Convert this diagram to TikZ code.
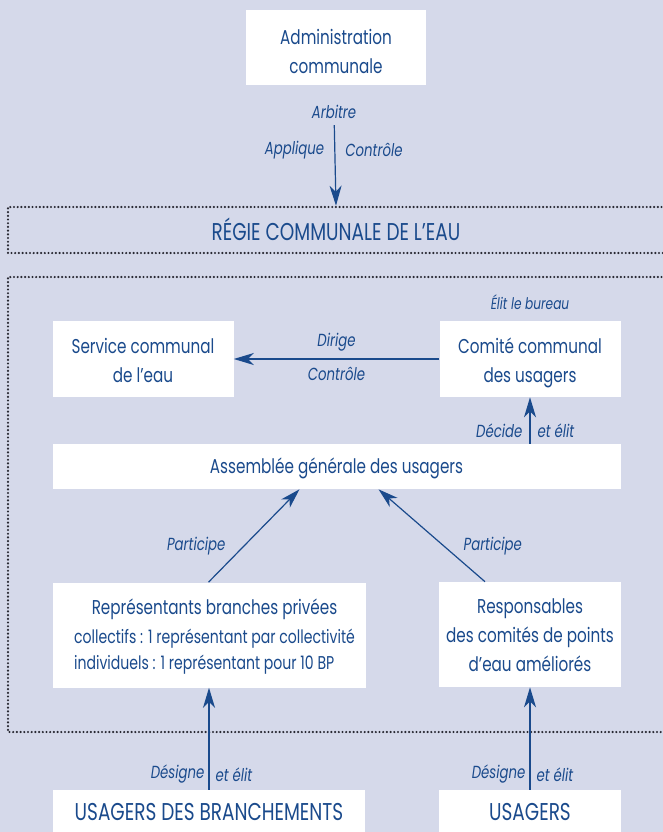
\documentclass[tikz,border=0pt]{standalone}
\usepackage{fontspec}
\setmainfont{Poppins}[FakeStretch=0.76]
\usetikzlibrary{positioning,arrows.meta}
\definecolor{fondbleu}{RGB}{213,217,234}
\definecolor{encre}{RGB}{26,74,140}
\definecolor{pointille}{RGB}{40,40,50}
\newcommand{\petit}{\fontsize{18.5}{26}\selectfont}
% hauteur de la premiere ligne et profondeur de la derniere
\newcommand{\montee}[1][21pt]{\rule{0pt}{#1}}
\newcommand{\descente}{\rule[-7pt]{0pt}{7pt}}

\begin{document}
\begin{tikzpicture}[x=1pt, y=-1pt, semithick,
            boite/.style ={fill=white, text=encre, align=center, inner sep=0pt,
                font=\fontsize{20}{29}\selectfont},
            titre/.style ={text=encre, font=\fontsize{24.3}{26}\selectfont},
            etiq/.style ={text=encre, font=\fontsize{17.5}{20}\selectfont\itshape, inner sep=2pt},
            fleche/.style ={draw=encre, line width=1.2pt, -{Stealth[length=20pt, width=12pt, inset=6pt]}},
            cadre/.style ={draw=pointille, line width=2.4pt, line cap=round, dash pattern=on 0pt off 3.7pt}]

        \useasboundingbox (0,0) rectangle (663,832);
        \fill[fondbleu] (0,0) rectangle (663,832);
        \clip (0,0) rectangle (663,832);

        % cadres pointilles
        \draw[cadre] (680,207) -- (8,207) -- (8,253) -- (680,253);
        \draw[cadre] (680,277) -- (8,277) -- (8,732) -- (680,732);

        % \node [estilo] (nombre) at (x,y) {};
        \node[boite, minimum width=180pt, minimum height=75pt] (admin) at (336,47.5)
            {\montee[30pt]Administration\\communale\descente};
        \node[titre, minimum height=46pt] (regie) at (336,229) {RÉGIE COMMUNALE DE L’EAU};

        \node[boite, minimum width=181pt, minimum height=76pt] (service) at (143,359)
            {\montee[24pt]Service communal\\de l’eau\descente};
        \node[boite, minimum width=181pt, minimum height=76pt] (comite) at (530,359)
            {\montee[24pt]Comité communal\\des usagers\descente};
        \node[boite, minimum width=568pt, minimum height=45pt] (assemblee) at (336.5,466.5)
            {\montee Assemblée générale des usagers\descente};

        \node[boite, minimum width=313pt, minimum height=105pt] (repres) at (209.5,635)
            {\renewcommand{\arraystretch}{0.9}%
             \begin{tabular}{@{\hspace{10pt}}l@{}}
               \multicolumn{1}{@{\hspace{10pt}}c@{}}{\montee[22pt]Représentants branches privées}\\[3pt]
               \petit collectifs : 1 représentant par collectivité\\
               \petit individuels : 1 représentant pour 10 BP
             \end{tabular}};
        \node[boite, minimum width=182pt, minimum height=105pt] (respons) at (530,634.5)
            {\montee[23pt]Responsables\\des comités de points\\d’eau améliorés\descente};

        \node[boite, minimum width=312pt, minimum height=60pt] (usbranch) at (209,820) {};
        \node[titre] at (209,812) {USAGERS DES BRANCHEMENTS};
        \node[boite, minimum width=182pt, minimum height=60pt] (usagers) at (530,820) {};
        \node[titre] at (530,812) {USAGERS};

        % etiquettes
        \node[etiq] (arbitre) at (334,112) {Arbitre};
        \node[etiq, font=\fontsize{16}{20}\selectfont\itshape] (elit) at (530,302) {Élit le bureau};

        \path[fleche, shorten <=4pt] (arbitre) -- (regie.north) node[etiq, pos=0.34, left=8pt] {Applique}
                                                                 node[etiq, pos=0.34, right=8pt] {Contrôle};
        \path[fleche] (comite) -- (service) node[etiq, midway, above=5pt] {Dirige}
                                            node[etiq, midway, below=5pt] {Contrôle};
        \path[fleche] (assemblee.north -| comite) -- (comite) node[etiq, pos=0.28, left=5pt] {Décide}
                                                               node[etiq, pos=0.28, right=5pt] {et élit};

        \path[fleche] ([xshift=-1pt]repres.north) -- ([xshift=-37pt]assemblee.south) node[etiq, pos=0.39, left=16pt] {Participe};
        \path[fleche] ([xshift=-45pt]respons.north) -- ([xshift=42pt]assemblee.south) node[etiq, pos=0.39, right=17.5pt] {Participe};

        \path[fleche] (usbranch.north) -- (usbranch.north |- repres.south) node[etiq, pos=0.15, left=2pt] {Désigne}
                                                                           node[etiq, pos=0.15, right=4pt] {et élit};
        \path[fleche] (usagers.north) -- (respons) node[etiq, pos=0.15, left=2pt] {Désigne}
                                                   node[etiq, pos=0.15, right=4pt] {et élit};

    \end{tikzpicture}
\end{document}
